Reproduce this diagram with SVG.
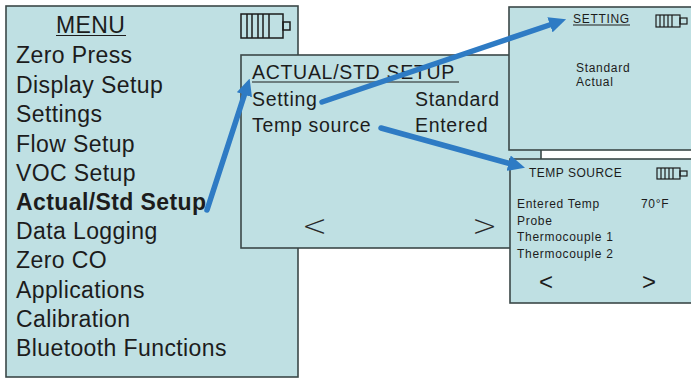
<svg xmlns="http://www.w3.org/2000/svg" width="691" height="378" viewBox="0 0 691 378">
<defs>
<style>
.box{fill:#bfe0e3;stroke:#3b4848;stroke-width:1.6}
.t{font-family:"Liberation Sans",Arial,sans-serif;fill:#1c1c1c}
.m{font-size:23px;letter-spacing:0.4px}
.a{font-size:19.5px;letter-spacing:0.7px}
.s{font-size:12px;letter-spacing:0.7px}
.nav{font-family:"DejaVu Sans","Liberation Sans",sans-serif;font-weight:200;fill:#2a2a2a}
.bat{fill:none;stroke:#1c1c1c;stroke-width:1.2}
.ul{stroke:#1c1c1c;stroke-width:1.2}
.conn{stroke:#2e7bc4;stroke-width:5.5;fill:none;stroke-linecap:round}
</style>
<marker id="ah" viewBox="0 -8 17 16" markerWidth="17" markerHeight="16" refX="1" refY="0" markerUnits="userSpaceOnUse" orient="auto">
<path d="M0,-8 L17,0 L0,8 z" fill="#2e7bc4"/>
</marker>
</defs>
<rect width="691" height="378" fill="#ffffff"/>

<g id="menu">
<rect class="box" x="6" y="6" width="292" height="371"/>
<text class="t m" x="56" y="33">MENU</text>
<line class="ul" x1="56" y1="35.5" x2="126" y2="35.5"/>
<g class="bat" style="stroke-width:1.5">
<rect x="241" y="14" width="42" height="24"/>
<path d="M247,14V38M252,14V38M258,14V38M263,14V38M269,14V38"/>
<rect x="283" y="22" width="7" height="8"/>
</g>
<text class="t m" x="16" y="63">Zero Press</text>
<text class="t m" x="16" y="92.5">Display Setup</text>
<text class="t m" x="16" y="122">Settings</text>
<text class="t m" x="16" y="151.5">Flow Setup</text>
<text class="t m" x="16" y="181">VOC Setup</text>
<text class="t m" x="16" y="210" font-weight="bold">Actual/Std Setup</text>
<text class="t m" x="16" y="239">Data Logging</text>
<text class="t m" x="16" y="268">Zero CO</text>
<text class="t m" x="16" y="297.5">Applications</text>
<text class="t m" x="16" y="327">Calibration</text>
<text class="t m" x="16" y="356">Bluetooth Functions</text>
</g>

<g id="actual-std-setup">
<rect class="box" x="241" y="55" width="300" height="193"/>
<text class="t a" x="252" y="79">ACTUAL/STD SETUP</text>
<line class="ul" x1="252" y1="82" x2="459" y2="82"/>
<text class="t a" x="252" y="106">Setting</text>
<text class="t a" x="415" y="106">Standard</text>
<text class="t a" x="252" y="132">Temp source</text>
<text class="t a" x="415" y="132">Entered</text>
<text class="nav" x="302" y="236" font-size="30">&lt;</text>
<text class="nav" x="472" y="236" font-size="30">&gt;</text>
</g>

<g id="setting">
<rect class="box" x="509" y="7" width="190" height="143"/>
<text class="t s" x="573" y="23" font-size="12.5">SETTING</text>
<line class="ul" x1="573" y1="25" x2="630" y2="25"/>
<g class="bat">
<rect x="656" y="15" width="24" height="12"/>
<path d="M660,15V27M664,15V27M668,15V27M672,15V27"/>
<rect x="680" y="18" width="7" height="6"/>
</g>
<text class="t s" x="576" y="72">Standard</text>
<text class="t s" x="576" y="86">Actual</text>
</g>

<g id="temp-source">
<rect class="box" x="510" y="159" width="189" height="144"/>
<text class="t s" x="529" y="177" font-size="12.5" style="letter-spacing:0.5px">TEMP SOURCE</text>
<g class="bat">
<rect x="657" y="168" width="23" height="11"/>
<path d="M661,168V179M665,168V179M669,168V179M673,168V179"/>
<rect x="680" y="171" width="7" height="5"/>
</g>
<text class="t s" x="517" y="208">Entered Temp</text>
<text class="t s" x="641" y="208">70°F</text>
<text class="t s" x="517" y="225">Probe</text>
<text class="t s" x="517" y="241">Thermocouple 1</text>
<text class="t s" x="517" y="258">Thermocouple 2</text>
<text class="t" x="539" y="290" font-size="24">&lt;</text>
<text class="t" x="642" y="290" font-size="24">&gt;</text>
</g>

<g id="connectors">
<line class="conn" x1="207" y1="210" x2="244.7" y2="93.8" marker-end="url(#ah)"/>
<line class="conn" x1="322" y1="102" x2="550.9" y2="24.5" marker-end="url(#ah)"/>
<line class="conn" x1="381" y1="128" x2="509.6" y2="163.5" marker-end="url(#ah)"/>
</g>
</svg>
